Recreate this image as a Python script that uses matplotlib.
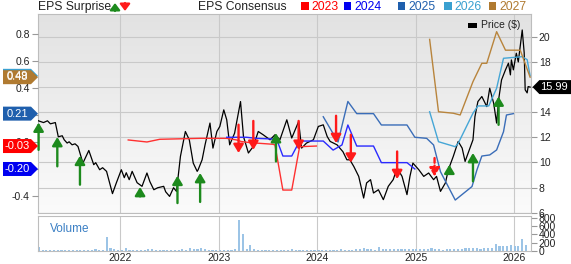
import numpy as np
import pandas as pd
import matplotlib
matplotlib.use('Agg')
import matplotlib.pyplot as plt
from matplotlib.colors import LinearSegmentedColormap
from matplotlib.patches import Polygon, Rectangle, FancyArrowPatch
from matplotlib.transforms import blended_transform_factory

plt.rcParams['font.family'] = ['Liberation Sans', 'DejaVu Sans']
plt.rcParams['axes.unicode_minus'] = False

# ---- data (decimal years) ----
price_t = [2021.16, 2021.22, 2021.26, 2021.29, 2021.34, 2021.37, 2021.41, 2021.43, 2021.46, 2021.48,
           2021.51, 2021.54, 2021.57, 2021.62, 2021.68, 2021.73, 2021.75, 2021.79, 2021.82, 2021.86,
           2021.92, 2021.96, 2022.01, 2022.04, 2022.06, 2022.09, 2022.12, 2022.17, 2022.22, 2022.27,
           2022.30, 2022.34, 2022.38, 2022.44, 2022.46, 2022.50, 2022.54, 2022.57, 2022.61, 2022.66,
           2022.70, 2022.74, 2022.78, 2022.79, 2022.83, 2022.86, 2022.91, 2022.94, 2022.98, 2023.01,
           2023.05, 2023.08, 2023.11, 2023.16, 2023.22, 2023.25, 2023.30, 2023.35, 2023.40, 2023.45,
           2023.52, 2023.57, 2023.62, 2023.69, 2023.74, 2023.81, 2023.84, 2023.89, 2023.96, 2024.01,
           2024.06, 2024.10, 2024.13, 2024.20, 2024.26, 2024.30, 2024.33, 2024.37, 2024.42, 2024.47,
           2024.50, 2024.54, 2024.57, 2024.62, 2024.67, 2024.72, 2024.77, 2024.81, 2024.86, 2024.91,
           2024.94, 2024.97, 2025.03, 2025.08, 2025.13, 2025.18, 2025.21, 2025.25, 2025.30, 2025.33,
           2025.38, 2025.43, 2025.47, 2025.50, 2025.55, 2025.58, 2025.60, 2025.63, 2025.67, 2025.72,
           2025.75, 2025.79, 2025.82, 2025.84, 2025.87, 2025.91, 2025.94, 2025.96, 2025.97, 2025.99,
           2026.02, 2026.04, 2026.08, 2026.10, 2026.11, 2026.13, 2026.14, 2026.16]
price_v = [13.33, 13.17, 13.31, 13.07, 13.17, 12.04, 12.12, 11.80, 11.54, 11.64,
           11.40, 11.48, 11.27, 9.95, 10.95, 9.82, 9.98, 9.42, 9.58, 9.29,
           7.52, 8.39, 9.42, 8.79, 9.18, 8.63, 9.29, 8.39, 8.10, 9.16,
           8.47, 7.83, 7.99, 8.10, 7.67, 7.30, 7.99, 7.70, 10.48, 12.46,
           11.80, 9.95, 9.29, 9.42, 10.21, 11.40, 13.13, 11.14, 12.46, 12.86,
           14.18, 13.39, 11.40, 12.33, 14.84, 12.06, 10.75, 11.27, 12.46, 12.20,
           11.80, 12.20, 11.80, 13.39, 11.94, 13.25, 11.14, 11.54, 11.80, 12.86,
           12.99, 12.06, 11.67, 11.40, 10.85, 10.21, 10.21, 9.68, 8.89, 7.17,
           8.37, 8.63, 7.57, 7.83, 7.04, 8.10, 8.63, 9.56, 8.89, 7.44,
           8.89, 9.95, 9.42, 8.89, 9.16, 8.63, 8.89, 7.70, 8.37, 9.42,
           10.48, 11.67, 11.14, 10.08, 11.14, 11.80, 13.65, 14.84, 15.24, 14.44,
           15.90, 14.71, 13.13, 14.98, 16.56, 17.36, 17.89, 16.96, 18.15, 17.36,
           18.68, 17.99, 20.53, 18.71, 15.77, 15.53, 16.03, 15.99]

eps_2023_t = [2022.08, 2022.27, 2022.40, 2022.81, 2023.08, 2023.18, 2023.23, 2023.32, 2023.55, 2023.57,
              2023.65, 2023.74, 2023.82, 2023.99]
eps_2023_v = [0.015, 0.00, 0.02, 0.027, 0.027, 0.015, 0.003, -0.005, -0.017, -0.022,
              -0.356, -0.356, -0.035, -0.03]
eps_2024_t = [2023.08, 2023.28, 2023.38, 2023.55, 2023.59, 2023.65, 2023.74, 2023.82, 2024.06, 2024.16,
              2024.25, 2024.31, 2024.40, 2024.57, 2024.65, 2024.91, 2024.99]
eps_2024_v = [0.035, 0.035, 0.027, 0.022, 0.015, -0.104, -0.104, 0.007, 0.007, -0.06,
              -0.022, 0.126, -0.03, -0.03, -0.153, -0.153, -0.20]
eps_2025_t = [2024.06, 2024.21, 2024.31, 2024.40, 2024.57, 2024.65, 2024.91, 2024.99, 2025.11, 2025.18,
              2025.25, 2025.40, 2025.57, 2025.62, 2025.67, 2025.75, 2025.82, 2025.89, 2025.92, 2025.99]
eps_2025_v = [0.187, 0.0, 0.30, 0.21, 0.21, 0.126, 0.126, 0.035, 0.027, -0.022,
              -0.22, -0.43, -0.33, -0.207, -0.104, -0.096, -0.059, 0.076, 0.20, 0.21]
eps_2026_t = [2025.14, 2025.23, 2025.40, 2025.43, 2025.58, 2025.63, 2025.74, 2025.82, 2025.89, 2026.08,
              2026.13, 2026.16]
eps_2026_v = [0.224, 0.002, -0.035, -0.01, 0.213, 0.267, 0.267, 0.398, 0.62, 0.632,
              0.61, 0.49]
eps_2027_t = [2025.14, 2025.23, 2025.38, 2025.45, 2025.58, 2025.67, 2025.72, 2025.82, 2025.91, 2026.06,
              2026.16]
eps_2027_v = [0.76, 0.224, 0.213, 0.20, 0.447, 0.583, 0.583, 0.817, 0.68, 0.68, 0.48]

# surprise arrows: date, price at arrow head, length in price units
up_t = [2021.17, 2021.36, 2021.59, 2022.20, 2022.58, 2022.81, 2023.58, 2025.34, 2025.58, 2025.84]
up_head = [13.17, 12.02, 10.53, 8.05, 8.94, 9.16, 12.33, 9.82, 10.75, 15.24]
up_len = [2.17, 2.33, 2.30, 0.75, 2.17, 2.30, 2.25, 0.66, 2.25, 2.25]
down_t = [2023.20, 2023.35, 2023.81, 2024.19, 2024.34, 2024.81, 2025.19]
down_head = [10.75, 11.00, 11.00, 11.54, 9.98, 8.68, 8.89]
down_len = [2.25, 2.30, 2.30, 2.17, 2.22, 2.19, 1.46]
down_dashed = [False, False, False, False, False, False, True]

vol_dates = pd.date_range('2021-03-05', periods=130, freq='14D')
vol = [90, 35, 30, 28, 32, 25, 30, 28, 26, 30,
       28, 35, 25, 30, 28, 40, 30, 35, 330, 80,
       45, 35, 30, 70, 30, 25, 28, 35, 30, 40,
       45, 30, 25, 28, 25, 30, 25, 30, 45, 35,
       70, 55, 40, 75, 50, 35, 30, 28, 30, 25,
       30, 35, 60, 750, 420, 60, 150, 40, 35, 30,
       25, 30, 28, 35, 30, 25, 30, 45, 28, 30,
       25, 28, 22, 30, 25, 28, 30, 25, 30, 35,
       40, 30, 35, 30, 45, 40, 70, 50, 45, 35,
       100, 45, 40, 50, 45, 55, 50, 45, 55, 45,
       40, 45, 50, 40, 70, 45, 40, 35, 40, 45,
       40, 50, 55, 70, 75, 65, 70, 60, 80, 70,
       80, 170, 110, 130, 120, 140, 130, 110, 300, 150]
vol_t = vol_dates.year + (vol_dates.dayofyear - 1) / 365.25

years = [2022, 2023, 2024, 2025, 2026]
eps_ticks = [-0.4, -0.2, 0.0, 0.2, 0.4, 0.6, 0.8]
price_ticks = [6, 8, 10, 12, 14, 16, 18, 20]
vol_ticks = [0, 200, 400, 600, 800]

series = [('2023', eps_2023_t, eps_2023_v, '#ff3030', '#ff0000'),
          ('2024', eps_2024_t, eps_2024_v, '#2a2aff', '#0000f0'),
          ('2025', eps_2025_t, eps_2025_v, '#3a6db8', '#1f5fad'),
          ('2026', eps_2026_t, eps_2026_v, '#45a6d6', '#3aa0d0'),
          ('2027', eps_2027_t, eps_2027_v, '#b8843c', '#b07a30')]

GREEN = '#1d8a1d'
RED = '#ff1a1a'
GRID = '#c9c9c9'
SPINE = '#bdbdbd'
TXT = '#222222'

W, H = 571, 264


def box(l, t, r, b):
    return [l / W, 1 - b / H, (r - l) / W, (b - t) / H]


def px(x, y):
    return (x / W, 1 - y / H)


fig = plt.figure(figsize=(W / 100, H / 100), dpi=100)
ax = fig.add_axes(box(38, 14, 530.5, 213))
axv = fig.add_axes(box(38, 216, 530.5, 251))
ax_eps = ax.twinx()

xlim = (2021.164, 2026.164)

# background gradient
grad = np.linspace(0, 1, 256).reshape(-1, 1)
cmap = LinearSegmentedColormap.from_list('bg', ['#fbfbfb', '#e2e2e2'])
ax.imshow(grad, extent=[0, 1, 0, 1], transform=ax.transAxes, cmap=cmap,
          aspect='auto', origin='lower', zorder=0)

# price on main axes (right side ticks)
ax.plot(price_t, price_v, color='black', lw=0.9, zorder=3)
ax.set_xlim(*xlim)
ax.set_ylim(5.98, 21.80)
ax.set_xticks(years)
ax.set_yticks(price_ticks)
ax.set_axisbelow(True)
ax.grid(True, color=GRID, lw=0.8)
ax.tick_params(axis='x', length=0, labelbottom=False)
ax.yaxis.tick_right()
ax.tick_params(axis='y', length=4, width=0.8, color='#999999', labelsize=7.5,
               labelcolor=TXT, pad=2)
for s in ax.spines.values():
    s.set_color(SPINE)

# eps consensus lines
for name, t, v, c, _ in series:
    ax_eps.plot(t, v, color=c, lw=1.0, zorder=2)
ax_eps.set_xlim(*xlim)
ax_eps.set_ylim(-0.526, 0.948)
ax_eps.set_yticks(eps_ticks)
ax_eps.set_yticklabels(['%.1f' % v for v in eps_ticks])
ax_eps.yaxis.tick_left()
ax_eps.tick_params(axis='y', length=4, width=0.8, color='#999999', labelsize=7.5,
                   labelcolor=TXT, pad=2)
for s in ax_eps.spines.values():
    s.set_visible(False)

# surprise arrows (drawn in price coordinates)
astyle = '-|>,head_length=0.5,head_width=0.3'
for t, h, ln in zip(up_t, up_head, up_len):
    ax_eps.annotate('', xy=(t, h), xytext=(t, h - ln), xycoords=ax.transData,
                    textcoords=ax.transData,
                    arrowprops=dict(arrowstyle=astyle, mutation_scale=10, color=GREEN,
                                    lw=1.7, shrinkA=0, shrinkB=0), zorder=5)
for t, h, ln, d in zip(down_t, down_head, down_len, down_dashed):
    ax_eps.annotate('', xy=(t, h), xytext=(t, h + ln), xycoords=ax.transData,
                    textcoords=ax.transData,
                    arrowprops=dict(arrowstyle=astyle, mutation_scale=10, color=RED,
                                    lw=1.7, linestyle=(0, (2, 1.2)) if d else '-',
                                    shrinkA=0, shrinkB=0), zorder=5)

# left badges with last consensus values
tr_l = blended_transform_factory(ax.transAxes, ax_eps.transData)
hh = 7 / 135.0
x0, x1, x2 = -35 / 492.5, -7 / 492.5, 0.0
badge_order = [series[3], series[4], series[1], series[0], series[2]]
for name, t, v, _, fc in badge_order:
    y = v[-1]
    poly = Polygon([(x0, y - hh), (x1, y - hh), (x2, y), (x1, y + hh), (x0, y + hh)],
                   closed=True, transform=tr_l, facecolor=fc, edgecolor='none',
                   clip_on=False, zorder=10)
    ax_eps.add_patch(poly)
    ax_eps.text((x0 + x1) / 2, y, '%.2f' % y, transform=tr_l, color='white',
                fontsize=8, ha='center', va='center', clip_on=False, zorder=11)

# right price badge
tr_r = blended_transform_factory(ax.transAxes, ax.transData)
ph = 7 / 12.6
last = price_v[-1]
r0, r1, r2 = 1.004, 1.018, 1.083
poly = Polygon([(r0, last), (r1, last - ph), (r2, last - ph), (r2, last + ph), (r1, last + ph)],
               closed=True, transform=tr_r, facecolor='black', edgecolor='none',
               clip_on=False, zorder=10)
ax_eps.add_patch(poly)
ax_eps.text(1.047, last, '%.2f' % last, transform=tr_r, color='white', fontsize=8,
            ha='center', va='center', clip_on=False, zorder=11)

# volume panel
axv.bar(vol_t, vol, width=0.022, color='#9cc4e6', zorder=2)
axv.set_xlim(*xlim)
axv.set_ylim(0, 847)
axv.set_xticks(years)
axv.set_xticklabels([str(y) for y in years])
axv.set_yticks(vol_ticks)
axv.grid(True, axis='x', color=GRID, lw=0.8)
axv.set_axisbelow(True)
axv.yaxis.tick_right()
axv.tick_params(axis='x', length=0, labelsize=7.5, labelcolor=TXT, pad=1.5)
axv.tick_params(axis='y', length=4, width=0.8, color='#999999', labelsize=7.5,
                labelcolor=TXT, pad=2)
for s in axv.spines.values():
    s.set_color(SPINE)
axv.text(12 / 492.5, 0.64, 'Volume', transform=axv.transAxes, color='#3a7fc4',
         fontsize=8.5, ha='left', va='center')

# header legend
fig.text(*px(38, 7), 'EPS Surprise', fontsize=8.7, color=TXT, ha='left', va='center')
fig.add_artist(FancyArrowPatch(px(115, 11), px(115, 3),
                               arrowstyle='-|>,head_length=0.4,head_width=0.3',
                               mutation_scale=10, color=GREEN, lw=1.6,
                               transform=fig.transFigure, shrinkA=0, shrinkB=0))
fig.add_artist(FancyArrowPatch(px(125, 3), px(125, 11),
                               arrowstyle='-|>,head_length=0.4,head_width=0.3',
                               mutation_scale=10, color=RED, lw=1.6,
                               transform=fig.transFigure, shrinkA=0, shrinkB=0))
fig.text(*px(287, 7), 'EPS Consensus', fontsize=8.7, color=TXT, ha='right', va='center')
leg_x = [301, 343.5, 397.5, 443.5, 488.5]
for (name, _, _, _, fc), lx in zip(series, leg_x):
    fig.add_artist(Rectangle(px(lx, 9.5), 8 / W, 8 / H, transform=fig.transFigure,
                             facecolor=fc, edgecolor='none'))
    fig.text(*px(lx + 10.5, 7), name, fontsize=8.7, color=fc, ha='left', va='center')

fig.add_artist(Rectangle(px(467.5, 27.5), 9.5 / W, 5 / H, transform=fig.transFigure,
                         facecolor='black', edgecolor='none'))
fig.text(*px(481, 25), 'Price ($)', fontsize=7.5, color=TXT, ha='left', va='center')

fig.savefig('out.png', dpi=100)
